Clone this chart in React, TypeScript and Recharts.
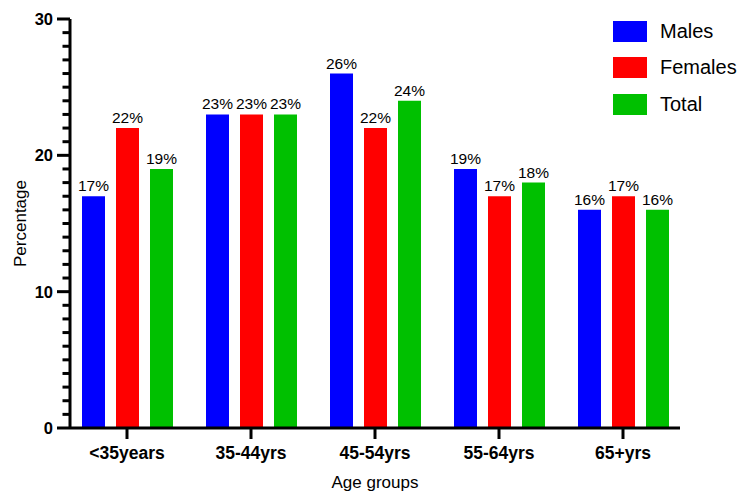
import React from 'react';
import { BarChart, Bar, XAxis, YAxis, LabelList } from 'recharts';

const categories = ['<35years', '35-44yrs', '45-54yrs', '55-64yrs', '65+yrs'];
const males = [17, 23, 26, 19, 16];
const females = [22, 23, 22, 17, 17];
const total = [19, 23, 24, 18, 16];
const yTicks = Array.from({ length: 31 }, (_, i) => i);

const seriesInfo = [
  { key: 'Males', color: '#0000FF' },
  { key: 'Females', color: '#FF0000' },
  { key: 'Total', color: '#00C000' },
];

const data = categories.map((c, i) => ({
  name: c,
  Males: males[i],
  Females: females[i],
  Total: total[i],
}));

const FONT = '"Liberation Sans", Arial, Helvetica, sans-serif';

const YTick = (props: any) => {
  const { x, y, payload } = props;
  const major = payload.value % 10 === 0;
  const len = major ? 13 : 7.5;
  return (
    <g>
      <line x1={x - len} x2={x} y1={y} y2={y} stroke="#000" strokeWidth={3} />
      {major && (
        <text
          x={x - len - 4}
          y={y}
          dy="0.36em"
          textAnchor="end"
          fontFamily={FONT}
          fontSize={16.5}
          fontWeight="bold"
          fill="#000"
        >
          {payload.value}
        </text>
      )}
    </g>
  );
};

const LegendBox = () => (
  <div style={{ position: 'absolute', left: 613, top: 13, width: 137, fontFamily: FONT }}>
    {seriesInfo.map((s) => (
      <div key={s.key} style={{ display: 'flex', alignItems: 'center', height: 36.5 }}>
        <div style={{ width: 34, height: 21, background: s.color, marginRight: 13, flexShrink: 0 }} />
        <span style={{ fontSize: 20, color: '#000', whiteSpace: 'nowrap' }}>{s.key}</span>
      </div>
    ))}
  </div>
);

export default function App() {
  return (
    <div style={{ position: 'absolute', left: 0, top: 0, width: 750, height: 501, background: '#fff' }}>
      <BarChart
        width={750}
        height={501}
        data={data}
        margin={{ top: 19, right: 70, bottom: 0, left: 10 }}
        barSize={23}
        barGap={11}
      >
        <XAxis
          dataKey="name"
          height={73}
          padding={{ left: -5, right: -5 }}
          axisLine={{ stroke: '#000', strokeWidth: 3 }}
          tickLine={{ stroke: '#000', strokeWidth: 3 }}
          tickSize={11}
          tickMargin={8}
          interval={0}
          tick={{ fill: '#000', fontSize: 17.5, fontWeight: 'bold', fontFamily: FONT }}
          label={(p: any) => {
            const vb = p.viewBox;
            return (
              <text
                x={vb.x + vb.width / 2}
                y={vb.y + 60}
                textAnchor="middle"
                fontFamily={FONT}
                fontSize={17}
                fill="#000"
              >
                Age groups
              </text>
            );
          }}
        />
        <YAxis
          width={60}
          domain={[0, 30]}
          ticks={yTicks}
          interval={0}
          tickSize={0}
          tickMargin={0}
          tickLine={false}
          axisLine={{ stroke: '#000', strokeWidth: 3 }}
          tick={<YTick />}
          label={(p: any) => {
            const vb = p.viewBox;
            const cx = vb.x + 10;
            const cy = vb.y + vb.height / 2;
            return (
              <text
                x={cx}
                y={cy}
                transform={`rotate(-90 ${cx} ${cy})`}
                textAnchor="middle"
                dominantBaseline="central"
                fontFamily={FONT}
                fontSize={17}
                fill="#000"
              >
                Percentage
              </text>
            );
          }}
        />
        {seriesInfo.map((s) => (
          <Bar key={s.key} dataKey={s.key} fill={s.color} isAnimationActive={false}>
            <LabelList
              dataKey={s.key}
              position="top"
              offset={5}
              formatter={(v: any) => `${v}%`}
              style={{ fontFamily: FONT, fontSize: 15.5, fill: '#000' }}
            />
          </Bar>
        ))}
      </BarChart>
      <LegendBox />
    </div>
  );
}
